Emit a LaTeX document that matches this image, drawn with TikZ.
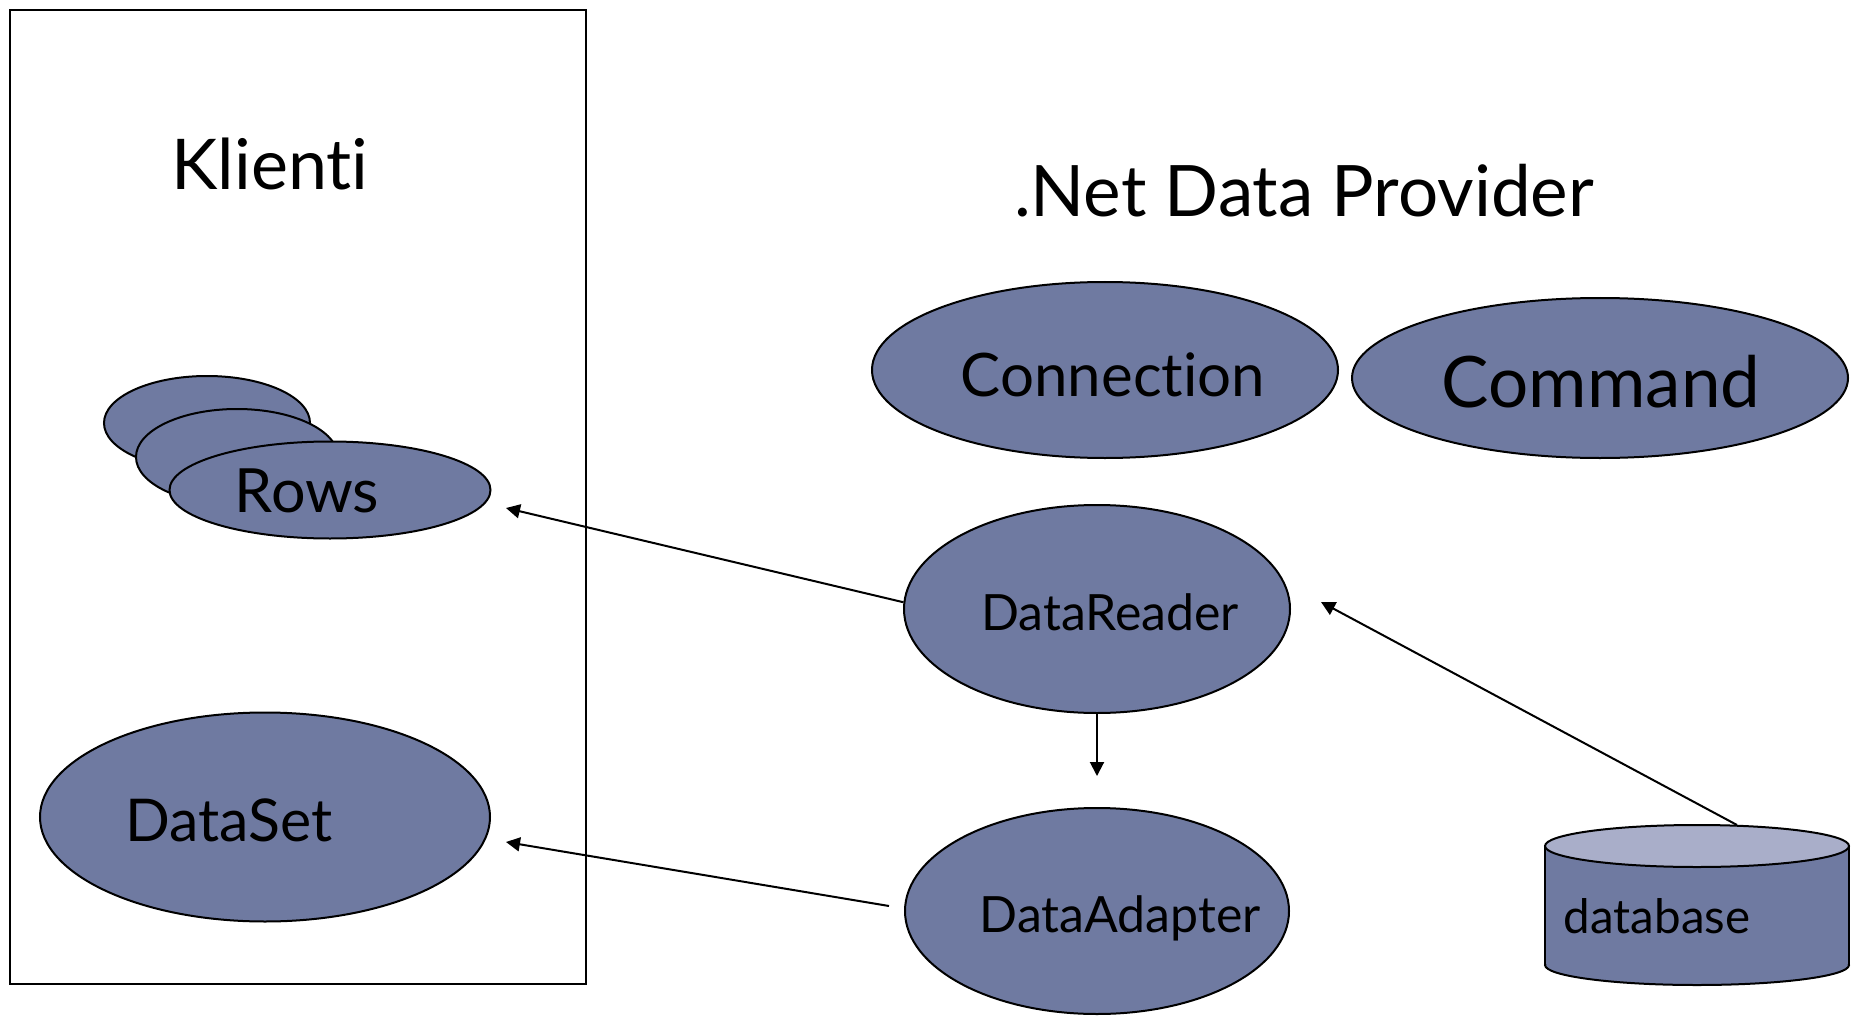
\documentclass[tikz,border=0pt]{standalone}
\usepackage{fontspec}
\setmainfont{Lato}[Ligatures=NoCommon]
\usetikzlibrary{shapes.geometric,arrows.meta}

\definecolor{objfill}{RGB}{111,122,161}
\definecolor{capfill}{RGB}{169,174,201}

\tikzset{
  obj/.style={ellipse, draw=black, line width=2pt, fill=objfill, inner sep=0pt},
  lbl/.style={anchor=base, inner sep=0pt, text=black},
  arr/.style={line width=2pt, -{Triangle[length=14pt,width=14pt]}},
}

\begin{document}
\begin{tikzpicture}[x=1pt, y=-1pt]
  \useasboundingbox (0,0) rectangle (1860,1016);
  \fill[white] (0,0) rectangle (1860,1016);

  % client side frame
  \draw[line width=2.5pt] (10,10) rectangle (586,984);
  \node[lbl, font=\fontsize{70}{84}\selectfont] (klienti) at (270,190) {Klienti};

  % stacked rows
  \node[obj, minimum width=206pt, minimum height=94pt] (row3) at (207,423) {};
  \node[obj, minimum width=202pt, minimum height=96pt] (row2) at (237,457) {};
  \node[obj, minimum width=321pt, minimum height=97pt] (rows) at (330,490) {};
  \node[lbl, font=\fontsize{61}{73}\selectfont] (rowsT) at (307,512) {Rows};

  % data set
  \node[obj, minimum width=450pt, minimum height=209pt] (ds) at (265,817) {};
  \node[lbl, font=\fontsize{59}{71}\selectfont] (dsT) at (229,841) {DataSet};

  % provider
  \node[lbl, font=\fontsize{71}{85}\selectfont] (provider) at (1304,217) {.Net Data Provider};

  \node[obj, minimum width=466pt, minimum height=176pt] (conn) at (1105,370) {};
  \node[lbl, font=\fontsize{60}{72}\selectfont] (connT) at (1113,396) {Connection};

  \node[obj, minimum width=496pt, minimum height=160pt] (cmd) at (1600,378) {};
  \node[lbl, font=\fontsize{71}{85}\selectfont] (cmdT) at (1601,407) {Command};

  \node[obj, minimum width=386pt, minimum height=208pt] (dr) at (1097,609) {};
  \node[lbl, font=\fontsize{50}{60}\selectfont] (drT) at (1110,630) {DataReader};

  \node[obj, minimum width=384pt, minimum height=206pt] (da) at (1097,911) {};
  \node[lbl, font=\fontsize{50}{60}\selectfont] (daT) at (1120,932) {DataAdapter};

  % database cylinder
  \fill[objfill] (1545,846) rectangle (1849,965);
  \draw[line width=2pt, fill=objfill] (1697,965) ellipse [x radius=152, y radius=20];
  \fill[objfill] (1546,846) rectangle (1848,964);
  \draw[line width=2pt] (1545,846) -- (1545,965) (1849,846) -- (1849,965);
  \draw[line width=2pt, fill=capfill] (1697,846) ellipse [x radius=152, y radius=21];
  \node[lbl, font=\fontsize{47.5}{57}\selectfont] (dbT) at (1657,933) {database};

  % connector end points
  \coordinate (rowsIn) at (506,508);
  \coordinate (daOut) at (889,906);
  \coordinate (dsIn) at (506,842);
  \coordinate (dbOut) at (1737,825);
  \coordinate (drIn) at (1321,602);

  % connectors
  \draw[arr] (dr.178) -- (rowsIn);
  \draw[arr] (daOut) -- (dsIn);
  \draw[arr, shorten >=31pt] (dr.south) -- (da.north);
  \draw[arr] (dbOut) -- (drIn);
\end{tikzpicture}
\end{document}
